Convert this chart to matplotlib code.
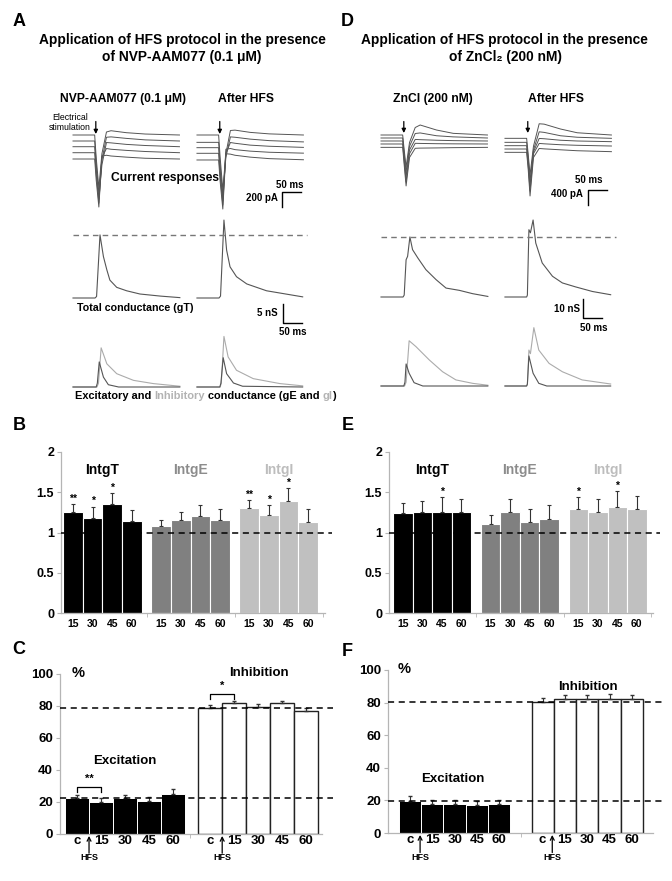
import matplotlib.pyplot as plt
import numpy as np

plt.rcParams['font.family'] = ['Liberation Sans', 'DejaVu Sans']
plt.rcParams['font.weight'] = 'bold'

W, H = 672, 881
fig = plt.figure(figsize=(W / 100, H / 100), dpi=100)

# ---------------- traces (key points) ----------------
# current responses, A (ms, pA)
cur_A_t = [0, 57, 61, 68, 76, 88, 100, 140, 190, 280]
cur_A_ctrl = [[0, 0, -300, -707, -250, 40, 57, 31, 13, 0],
              [-80, -80, -380, -787, -330, -30, -25, -45, -65, -80],
              [-156, -156, -450, -853, -400, -100, -105, -125, -140, -156],
              [-236, -236, -520, -907, -300, -180, -190, -205, -220, -236],
              [-320, -320, -600, -960, -280, -270, -280, -295, -310, -320]]
cur_A_hfs = [[0, 0, -300, -733, -250, 60, 65, 35, 15, 0],
             [-98, -98, -400, -813, -300, -25, -30, -55, -75, -92],
             [-169, -169, -470, -880, -250, -100, -110, -135, -150, -165],
             [-244, -244, -540, -933, -190, -180, -195, -215, -230, -242],
             [-333, -333, -620, -987, -250, -255, -270, -295, -315, -330]]
# current responses, D
cur_D_t = [0, 57, 61, 66, 75, 90, 103, 146, 190, 280]
cur_D_ctrl = [[0, 0, -400, -855, -200, 200, 267, 133, 44, 0],
              [-80, -80, -500, -990, -300, 40, 55, -20, -50, -80],
              [-160, -160, -600, -1120, -400, -118, -125, -140, -150, -160],
              [-240, -240, -700, -1255, -500, -222, -225, -232, -236, -240],
              [-330, -330, -800, -1360, -600, -355, -350, -345, -338, -330]]
cur_D_hfs = [[-89, -89, -500, -1068, -300, 300, 290, 160, 60, 0],
             [-196, -196, -600, -1228, -400, 85, 70, -20, -60, -89],
             [-285, -285, -700, -1362, -450, -92, -100, -140, -160, -178],
             [-374, -374, -800, -1495, -500, -225, -235, -260, -275, -294],
             [-463, -463, -900, -1628, -600, -360, -370, -395, -420, -445]]

# total conductance (nS)
gT_A_ctrl_t = [0, 58, 62, 71, 80, 89, 97, 115, 141, 176, 230, 281]
gT_A_ctrl = [0, 0, 0.4, 16.6, 10.9, 7.4, 4.7, 2.8, 1.9, 1.05, 0.5, 0.1]
gT_A_hfs_t = [0, 58, 62, 71, 78, 87, 104, 131, 183, 278]
gT_A_hfs = [0, 0, 0.5, 20.5, 12.6, 8.2, 5.6, 3.7, 1.9, 0.3]
gT_D_ctrl_t = [0, 58, 61, 66, 70, 76, 83, 97, 118, 145, 171, 206, 241, 281]
gT_D_ctrl = [0, 0, 1, 19.6, 21.4, 31.6, 24.9, 20.5, 14.4, 9.1, 4.7, 3.5, 1.75, 0.3]
gT_D_hfs_t = [0, 57, 59, 63, 67, 74, 81, 98, 125, 151, 186, 230, 278]
gT_D_hfs = [0, 0, 1, 35.4, 33.8, 40.5, 28.4, 17.9, 10.9, 7.4, 5.3, 2.9, 1.2]

# excitatory / inhibitory conductance (nS)
gI_A_ctrl_t = [0, 63, 67, 74, 89, 115, 159, 211, 281]
gI_A_ctrl = [0, 0, 1, 10.3, 6.1, 3.5, 1.75, 0.9, 0.2]
gE_A_ctrl_t = [0, 61, 64, 69, 80, 93, 120, 281]
gE_A_ctrl = [0, 0, 1, 6.6, 2.6, 0.6, 0, 0]
gI_A_hfs_t = [0, 61, 64, 71, 82, 104, 148, 218, 278]
gI_A_hfs = [0, 0, 1, 13.3, 7.9, 4.4, 2.2, 0.9, 0.3]
gE_A_hfs_t = [0, 60, 63, 69, 78, 96, 120, 278]
gE_A_hfs = [0, 0, 1, 7.7, 3.5, 1.05, 0.2, 0]
gI_D_ctrl_t = [0, 62, 66, 74, 92, 127, 162, 197, 241, 281]
gI_D_ctrl = [0, 0, 2, 23.8, 20.7, 13.7, 7.5, 3.2, 1.4, 0.4]
gE_D_ctrl_t = [0, 60, 63, 66, 74, 87, 110, 281]
gE_D_ctrl = [0, 0, 2, 11.6, 6.7, 1.75, 0, 0]
gI_D_hfs_t = [0, 57, 59, 63, 67, 76, 89, 116, 151, 203, 278]
gI_D_hfs = [0, 0, 1, 18.9, 17, 30.7, 18.9, 11.9, 7.5, 3.2, 1.05]
gE_D_hfs_t = [0, 57, 59, 63, 74, 89, 110, 278]
gE_D_hfs = [0, 0, 1, 15.8, 6.7, 1.4, 0, 0]

# ---------------- bar data ----------------
time_labels = ['15', '30', '45', '60']
groups = ['IntgT', 'IntgE', 'IntgI']
B_vals = [[1.26, 1.18, 1.35, 1.14], [1.08, 1.15, 1.20, 1.16], [1.30, 1.22, 1.39, 1.13]]
B_err = [[0.09, 0.14, 0.14, 0.14], [0.08, 0.11, 0.14, 0.13], [0.10, 0.12, 0.16, 0.16]]
B_stars = [['**', '*', '*', ''], ['', '', '', ''], ['**', '*', '*', '']]
E_vals = [[1.24, 1.25, 1.26, 1.25], [1.11, 1.25, 1.13, 1.17], [1.29, 1.26, 1.32, 1.29]]
E_err = [[0.13, 0.14, 0.18, 0.16], [0.11, 0.16, 0.16, 0.17], [0.15, 0.16, 0.19, 0.16]]
E_stars = [['', '', '*', ''], ['', '', '', ''], ['*', '', '*', '']]

pct_labels = ['c', '15', '30', '45', '60']
C_exc = [22.8, 20.2, 22.5, 20.4, 24.8]
C_exc_err = [1.8, 2.3, 2.1, 2.5, 3.3]
C_inh = [79.0, 81.7, 79.6, 81.7, 76.9]
C_inh_err = [1.4, 1.6, 1.7, 1.6, 1.6]
F_exc = [19.9, 17.6, 17.6, 17.2, 17.6]
F_exc_err = [2.5, 2.5, 2.5, 2.7, 2.9]
F_inh = [80.2, 82.0, 82.0, 82.5, 82.0]
F_inh_err = [2.7, 2.5, 2.5, 2.8, 2.9]

AFTER_SHIFT = 326   # ms between control and after-HFS traces
MS_PX = 2.63


def trace_ax(x0, y0, x1, y1, ox, oy, sy):
    ax = fig.add_axes([x0 / W, 1 - y1 / H, (x1 - x0) / W, (y1 - y0) / H])
    ax.set_xlim((x0 - ox) * MS_PX, (x1 - ox) * MS_PX)
    ax.set_ylim((oy - y1) * sy, (oy - y0) * sy)
    ax.axis('off')
    ax.patch.set_alpha(0)
    return ax


def add_ax(x0, y0, x1, y1):
    return fig.add_axes([x0 / W, 1 - y1 / H, (x1 - x0) / W, (y1 - y0) / H])


dark = '#555555'
light = '#ababab'
LW = 0.7
arrow_kw = dict(arrowstyle='-|>', color='k', lw=0.9, mutation_scale=6, shrinkA=0, shrinkB=0)

# ---- A current ----
ax = trace_ax(68, 112, 315, 215, 73, 135, 13.33)
for v in cur_A_ctrl:
    ax.plot(cur_A_t, v, color=dark, lw=LW)
for v in cur_A_hfs:
    ax.plot(np.array(cur_A_t) + AFTER_SHIFT, v, color=dark, lw=LW)
for s in [60, 60 + AFTER_SHIFT]:
    ax.annotate('', xy=(s, 13), xytext=(s, 180), arrowprops=arrow_kw)
ax.plot([600, 550, 550], [-760, -760, -960], color='k', lw=1)

# ---- A total conductance ----
ax = trace_ax(68, 212, 315, 340, 73, 298, 0.263)
ax.plot(gT_A_ctrl_t, gT_A_ctrl, color=dark, lw=LW + 0.1)
ax.plot(np.array(gT_A_hfs_t) + AFTER_SHIFT, gT_A_hfs, color=dark, lw=LW + 0.1)
ax.hlines(max(gT_A_ctrl), 0, 615, color='#777777', lw=1, linestyles=(0, (4, 3)))
ax.plot([552, 552, 602], [-1.58, -6.58, -6.58], color='k', lw=1)

# ---- A gE / gI ----
ax = trace_ax(68, 322, 315, 392, 73, 387, 0.263)
ax.plot(gI_A_ctrl_t, gI_A_ctrl, color=light, lw=LW + 0.1)
ax.plot(gE_A_ctrl_t, gE_A_ctrl, color=dark, lw=LW + 0.1)
ax.plot(np.array(gI_A_hfs_t) + AFTER_SHIFT, gI_A_hfs, color=light, lw=LW + 0.1)
ax.plot(np.array(gE_A_hfs_t) + AFTER_SHIFT, gE_A_hfs, color=dark, lw=LW + 0.1)

# ---- D current ----
ax = trace_ax(376, 112, 623, 215, 381, 135, 26.7)
for v in cur_D_ctrl:
    ax.plot(cur_D_t, v, color=dark, lw=LW)
for v in cur_D_hfs:
    ax.plot(np.array(cur_D_t) + AFTER_SHIFT, v, color=dark, lw=LW)
for s in [60, 60 + AFTER_SHIFT]:
    ax.annotate('', xy=(s, 53), xytext=(s, 360), arrowprops=arrow_kw)
ax.plot([594, 544, 544], [-1469, -1469, -1869], color='k', lw=1)

# ---- D total conductance ----
ax = trace_ax(376, 212, 623, 340, 381, 297, 0.526)
ax.plot(gT_D_ctrl_t, gT_D_ctrl, color=dark, lw=LW + 0.1)
ax.plot(np.array(gT_D_hfs_t) + AFTER_SHIFT, gT_D_hfs, color=dark, lw=LW + 0.1)
ax.hlines(max(gT_D_ctrl), 0, 618, color='#777777', lw=1, linestyles=(0, (4, 3)))
ax.plot([531, 531, 581], [-1.05, -11.05, -11.05], color='k', lw=1)

# ---- D gE / gI ----
ax = trace_ax(376, 318, 623, 392, 381, 386, 0.526)
ax.plot(gI_D_ctrl_t, gI_D_ctrl, color=light, lw=LW + 0.1)
ax.plot(gE_D_ctrl_t, gE_D_ctrl, color=dark, lw=LW + 0.1)
ax.plot(np.array(gI_D_hfs_t) + AFTER_SHIFT, gI_D_hfs, color=light, lw=LW + 0.1)
ax.plot(np.array(gE_D_hfs_t) + AFTER_SHIFT, gE_D_hfs, color=dark, lw=LW + 0.1)


# ---------------- ratio bar panels (B, E) ----------------
bar_cols = ['#000000', '#808080', '#c0c0c0']
title_cols = ['#000000', '#8c8c8c', '#bdbdbd']


def style_axis(ax):
    for s in ['top', 'right']:
        ax.spines[s].set_visible(False)
    for s in ['left', 'bottom']:
        ax.spines[s].set_color('#b5b5b5')
        ax.spines[s].set_linewidth(0.9)
    ax.tick_params(axis='y', length=3, color='#b5b5b5', labelsize=9, pad=2)
    ax.patch.set_alpha(0)


def ratio_panel(box, xl, vals, errs, stars):
    ax = add_ax(*box)
    pos_all, lab_all = [], []
    for g in range(3):
        pos = g * 4.5 + np.arange(4)
        ax.bar(pos, vals[g], width=1, color=bar_cols[g], edgecolor='white', lw=0.8, zorder=2)
        ax.errorbar(pos, vals[g], yerr=[np.zeros(4), errs[g]], fmt='none', ecolor='#333333',
                    elinewidth=0.8, capsize=1.2, capthick=0.8, zorder=3)
        for p, v, e, s in zip(pos, vals[g], errs[g], stars[g]):
            if s:
                ax.text(p, v + e + 0.005, s, ha='center', va='bottom', fontsize=7.5)
        ax.text(g * 4.5 + 1.5, 1.78, groups[g], color=title_cols[g], ha='center', va='center',
                fontsize=10)
        pos_all += list(pos)
        lab_all += time_labels
    ax.hlines(1, xl[0], xl[1] + 0.35, colors='k', lw=1.1, linestyles=(0, (4, 3)), zorder=4,
              clip_on=False)
    ax.set_xlim(*xl)
    ax.set_ylim(0, 2)
    ax.set_yticks([0, 0.5, 1, 1.5, 2])
    ax.set_yticklabels(['0', '0.5', '1', '1.5', '2'])
    ax.set_xticks(pos_all)
    ax.set_xticklabels(lab_all, fontsize=7.5)
    ax.set_xticks([3.75, 8.25, 12.75], minor=True)
    style_axis(ax)
    ax.tick_params(axis='x', which='major', length=0, pad=4)
    ax.tick_params(axis='x', which='minor', length=3, color='#b5b5b5')
    return ax


ratio_panel((61, 452, 325, 613), (-0.62, 12.87), B_vals, B_err, B_stars)
ratio_panel((389, 452, 653, 613), (-0.705, 12.83), E_vals, E_err, E_stars)


# ---------------- percentage panels (C, F) ----------------
def pct_panel(box, xl, inh0, exc, exc_err, inh, inh_err, sep, hfs_x, exc_lab, inh_lab, pct_x):
    ax = add_ax(*box)
    pe = np.arange(5)
    pi = inh0 + np.arange(5)
    ax.bar(pe, exc, width=1, color='black', edgecolor='white', lw=0.7, zorder=2)
    ax.bar(pi, inh, width=1, color='white', edgecolor='#222222', lw=1.0, zorder=2)
    ax.errorbar(pe, exc, yerr=[np.zeros(5), exc_err], fmt='none', ecolor='#333333',
                elinewidth=0.8, capsize=1.2, zorder=3)
    ax.errorbar(pi, inh, yerr=[np.zeros(5), inh_err], fmt='none', ecolor='#333333',
                elinewidth=0.8, capsize=1.2, zorder=3)
    for v in [exc[0], inh[0]]:
        ax.hlines(v, xl[0], xl[1] + 0.45, colors='k', lw=1.1, linestyles=(0, (4, 3)), zorder=4,
                  clip_on=False)
    ax.set_xlim(*xl)
    ax.set_ylim(0, 100)
    ax.set_yticks(range(0, 101, 20))
    ax.set_xticks(list(pe) + list(pi))
    ax.set_xticklabels(pct_labels * 2, fontsize=9.5)
    ax.set_xticks([sep], minor=True)
    style_axis(ax)
    ax.tick_params(axis='y', labelsize=9.5)
    ax.tick_params(axis='x', which='major', length=0, pad=1)
    ax.tick_params(axis='x', which='minor', length=3, color='#b5b5b5')
    tr = ax.get_xaxis_transform()
    for x in hfs_x:
        ax.annotate('', xy=(x, -0.012), xytext=(x, -0.12), xycoords=tr, textcoords=tr,
                    arrowprops=dict(arrowstyle='->', color='k', lw=0.9, mutation_scale=7,
                                    shrinkA=0, shrinkB=0))
        ax.text(x, -0.15, 'HFS', transform=tr, ha='center', va='center', fontsize=6.5)
    ax.text(exc_lab[0], exc_lab[1], 'Excitation', ha='center', va='center', fontsize=9.5)
    ax.text(inh_lab[0], inh_lab[1], 'Inhibition', ha='center', va='center', fontsize=9.5)
    ax.text(pct_x, 100.5, '%', ha='center', va='center', fontsize=10.5)
    return ax


ax = pct_panel((60, 674, 322, 834), (-0.71, 10.21), 5.55, C_exc, C_exc_err, C_inh, C_inh_err,
               4.71, [0.5, 6.05], (2.0, 45.6), (7.58, 100.6), 0.04)
# significance brackets in C
ax.plot([0, 0, 1, 1], [26.5, 29.4, 29.4, 26.5], color='k', lw=0.9, zorder=5)
ax.text(0.5, 34.5, '**', ha='center', va='center', fontsize=8)
ax.plot([5.55, 5.55, 6.55, 6.55], [84.4, 87.5, 87.5, 84.4], color='k', lw=0.9, zorder=5,
        clip_on=False)
ax.text(6.05, 92.5, '*', ha='center', va='center', fontsize=8)

pct_panel((388, 670, 653, 833), (-0.99, 10.9), 5.95, F_exc, F_exc_err, F_inh, F_inh_err,
          4.97, [0.45, 6.38], (1.92, 33.2), (7.98, 89.8), -0.27)

# ---------------- figure text (pixel positions) ----------------
ov = fig.add_axes([0, 0, 1, 1])
ov.set_xlim(0, W)
ov.set_ylim(H, 0)
ov.axis('off')
ov.patch.set_alpha(0)


def t(x, y, s, size, ha='center', **kw):
    return ov.text(x, y, s, fontsize=size, ha=ha, va='center', **kw)


for lab, x, y in [('A', 19, 21), ('D', 347, 21), ('B', 19, 426), ('E', 348, 426),
                  ('C', 19, 650), ('F', 347, 651)]:
    t(x, y, lab, 13)

t(182, 40, 'Application of HFS protocol in the presence', 9.9)
t(182, 57, 'of NVP-AAM077 (0.1 μM)', 9.9)
t(504, 40, 'Application of HFS protocol in the presence', 9.9)
t(505, 57, 'of ZnCl₂ (200 nM)', 9.9)
t(123, 99, 'NVP-AAM077 (0.1 μM)', 8.7)
t(246, 99, 'After HFS', 8.7)
t(433, 99, 'ZnCl (200 nM)', 8.7)
t(556, 99, 'After HFS', 8.7)
t(70, 117, 'Electrical', 6.3, fontweight='normal')
t(70, 128, 'stimulation', 6.3, fontweight='normal')
t(165, 178, 'Current responses', 8.7)
t(290, 185, '50 ms', 7)
t(278, 198, '200 pA', 7, ha='right')
t(77, 308, 'Total conductance (gT)', 7.7, ha='left')
t(278, 313, '5 nS', 7, ha='right')
t(293, 332, '50 ms', 7)
t(589, 180, '50 ms', 7)
t(583, 194, '400 pA', 7, ha='right')
t(580, 309, '10 nS', 7, ha='right')
t(594, 328, '50 ms', 7)

# multi-coloured caption
parts = [('Excitatory and ', 'black'), ('Inhibitory', '#b3b3b3'), (' conductance (gE and ', 'black'),
         ('gI', '#b3b3b3'), (')', 'black')]
prev = t(75, 396, parts[0][0], 7.9, ha='left', color=parts[0][1])
for s, c in parts[1:]:
    prev = ov.annotate(s, xy=(1, 0), xycoords=prev, ha='left', va='bottom', fontsize=7.9,
                       color=c)

fig.savefig('out.png', dpi=100)
